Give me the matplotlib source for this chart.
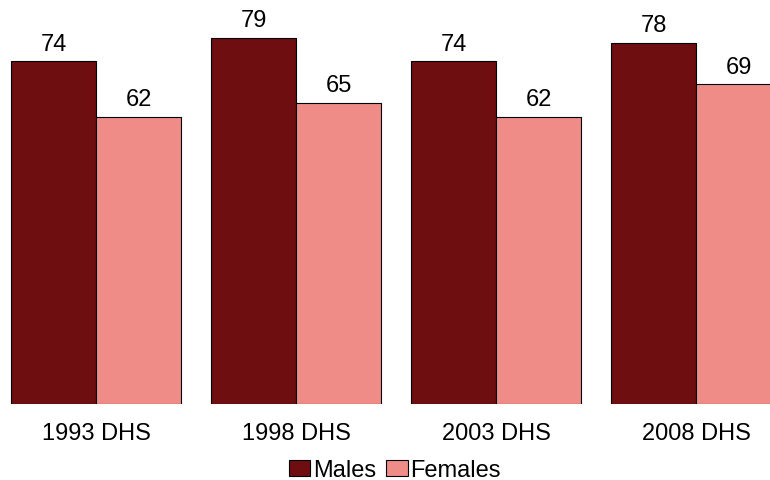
import matplotlib
matplotlib.use("Agg")
import matplotlib.pyplot as plt
import numpy as np

plt.rcParams["font.family"] = ["Liberation Sans", "DejaVu Sans"]

surveys = ["1993 DHS", "1998 DHS", "2003 DHS", "2008 DHS"]
males = [74, 79, 74, 78]
females = [62, 65, 62, 69]

MALE_COL = "#6E0E10"
FEMALE_COL = "#F08C88"

fig = plt.figure(figsize=(7.7, 4.81), dpi=100)
ax = fig.add_axes([0, 76 / 481, 1, 405 / 481])

x = np.arange(len(surveys))
w = 0.425
b1 = ax.bar(x - w / 2, males, w, color=MALE_COL, edgecolor="black", linewidth=0.8, label="Males")
b2 = ax.bar(x + w / 2, females, w, color=FEMALE_COL, edgecolor="black", linewidth=0.8, label="Females")

# value labels above each bar
for bars, vals in ((b1, males), (b2, females)):
    for bar, v in zip(bars, vals):
        ax.text(bar.get_x() + bar.get_width() / 2, v + 1.4, f"{v}",
                ha="center", va="bottom", fontsize=17)

ax.set_xlim(-0.48, 3.37)
ax.set_ylim(0, 87.4)
ax.set_xticks(x)
ax.set_xticklabels(surveys, fontsize=17)
ax.tick_params(axis="x", length=0, pad=13)
ax.set_yticks([])
for s in ax.spines.values():
    s.set_visible(False)

fig.legend(loc="center", bbox_to_anchor=(395 / 770, 1 - 471 / 481), ncol=2,
           frameon=False, fontsize=17, handlelength=0.9, handleheight=0.64,
           handletextpad=0.12, columnspacing=0.42, borderpad=0, borderaxespad=0)

fig.savefig("out.png", dpi=100)
